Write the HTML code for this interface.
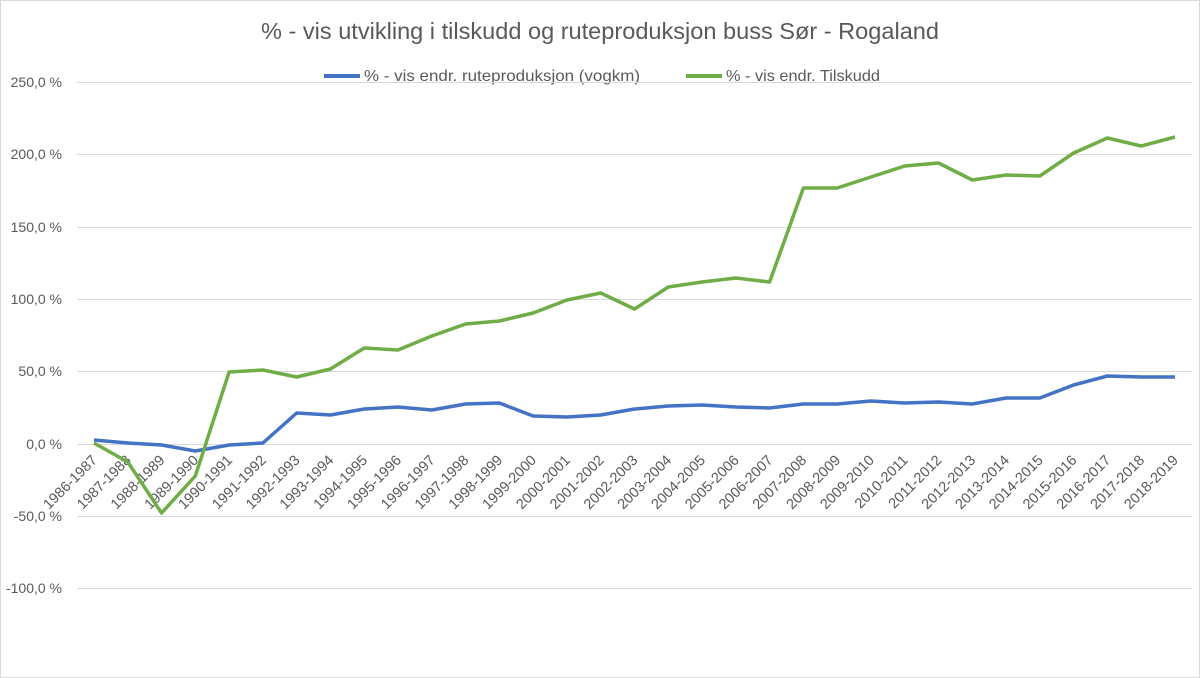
<!DOCTYPE html>
<html><head><meta charset="utf-8"><style>
html,body{margin:0;padding:0;background:#fff}
svg{display:block;font-family:"Liberation Sans",Calibri,sans-serif}
</style></head><body>
<svg width="1200" height="678" viewBox="0 0 1200 678">
<rect x="0.5" y="0.5" width="1199" height="677" fill="#fff" stroke="#d9d9d9"/>
<text x="600" y="39" text-anchor="middle" font-size="23" fill="#595959" textLength="678" lengthAdjust="spacingAndGlyphs">% - vis utvikling  i tilskudd og ruteproduksjon buss  Sør - Rogaland</text>
<line x1="324" y1="76" x2="360" y2="76" stroke="#4472c4" stroke-width="4"/>
<text x="364" y="81" font-size="16" fill="#595959" textLength="276" lengthAdjust="spacingAndGlyphs">% - vis endr. ruteproduksjon (vogkm)</text>
<line x1="686" y1="76" x2="722" y2="76" stroke="#70ad47" stroke-width="4"/>
<text x="726" y="81" font-size="16" fill="#595959" textLength="154" lengthAdjust="spacingAndGlyphs">% - vis endr. Tilskudd</text>
<g stroke="#d9d9d9" stroke-width="1">
<line x1="77" y1="82.5" x2="1192" y2="82.5"/><line x1="77" y1="154.5" x2="1192" y2="154.5"/>
<line x1="77" y1="227.5" x2="1192" y2="227.5"/><line x1="77" y1="299.5" x2="1192" y2="299.5"/>
<line x1="77" y1="371.5" x2="1192" y2="371.5"/><line x1="77" y1="444.5" x2="1192" y2="444.5"/>
<line x1="77" y1="516.5" x2="1192" y2="516.5"/><line x1="77" y1="588.5" x2="1192" y2="588.5"/>
</g>
<g font-size="14" fill="#595959" text-anchor="end">
<text x="62" y="87">250,0 %</text><text x="62" y="159">200,0 %</text><text x="62" y="232">150,0 %</text>
<text x="62" y="304">100,0 %</text><text x="62" y="376">50,0 %</text><text x="62" y="449">0,0 %</text>
<text x="62" y="521">-50,0 %</text><text x="62" y="593">-100,0 %</text>
</g>
<g id="lbl" font-size="14.5" fill="#595959" text-anchor="end"></g>
<polyline id="b" fill="none" stroke="#4472c4" stroke-width="3.5" stroke-linejoin="round"/>
<polyline id="g" fill="none" stroke="#70ad47" stroke-width="3.5" stroke-linejoin="round"/>
</svg>
<script>
var G=[443,462,513,476,372,370,377,369,348,350,336,324,321,313,300,293,309,287,282,278,282,188,188,177,166,163,180,175,176,153,138,146,137];
var B=[440,443,445,451,445,443,413,415,409,407,410,404,403,416,417,415,409,406,405,407,408,404,404,401,403,402,404,398,398,385,376,377,377];
var x=function(i){return 94+i*33.78};
document.getElementById('g').setAttribute('points',G.map(function(v,i){return x(i)+','+v}).join(' '));
document.getElementById('b').setAttribute('points',B.map(function(v,i){return x(i)+','+v}).join(' '));
var l=document.getElementById('lbl'),s='';
for(var i=0;i<33;i++){var a=1986+i,X=x(i)+4,Y=461;s+='<text transform="translate('+X+','+Y+') rotate(-45)">'+a+'-'+(a+1)+'</text>';}
l.innerHTML=s;
</script>
</body></html>
